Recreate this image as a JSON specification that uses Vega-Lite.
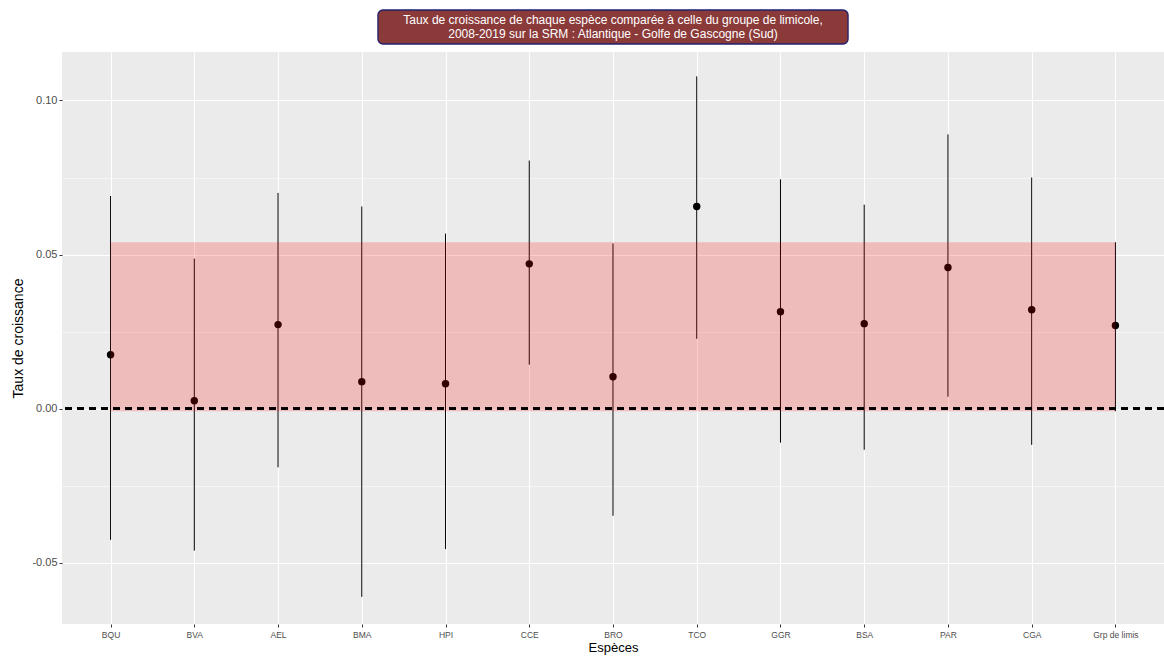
{
  "$schema": "https://vega.github.io/schema/vega-lite/v6.json",
  "background": "white",
  "padding": {"left": 11, "top": 9, "right": 0, "bottom": 0},
  "spacing": 8,
  "bounds": "flush",
  "config": {
    "font": "Liberation Sans",
    "view": {"stroke": null}
  },
  "resolve": {"scale": {"x": "independent", "y": "independent"}},
  "vconcat": [
    {
      "width": 1102,
      "height": 34,
      "data": {"values": [{"t": "Taux de croissance de chaque espèce comparée à celle du groupe de limicole,\n2008-2019 sur la SRM : Atlantique - Golfe de Gascogne (Sud)"}]},
      "layer": [
        {
          "mark": {"type": "rect", "fill": "#8B3A3A", "stroke": "#20206E", "strokeWidth": 1.3, "cornerRadius": 5},
          "encoding": {
            "x": {"field": "t", "type": "nominal", "axis": null, "scale": {"type": "band", "paddingInner": 0, "paddingOuter": 0.672}}
          }
        },
        {
          "mark": {"type": "text", "color": "white", "fontSize": 12, "lineBreak": "\n", "lineHeight": 14, "align": "center", "baseline": "middle", "dy": -7},
          "encoding": {
            "x": {"field": "t", "type": "nominal", "axis": null},
            "text": {"field": "t"}
          }
        }
      ]
    },
    {
      "width": 1102,
      "height": 572,
      "view": {"fill": "#EBEBEB", "stroke": null},
      "data": {"values": [
        {"sp": "BQU", "mid": 0.0175, "lo": -0.0425, "hi": 0.069},
        {"sp": "BVA", "mid": 0.0026, "lo": -0.046, "hi": 0.0487},
        {"sp": "AEL", "mid": 0.0273, "lo": -0.019, "hi": 0.070},
        {"sp": "BMA", "mid": 0.0088, "lo": -0.061, "hi": 0.0656},
        {"sp": "HPI", "mid": 0.0081, "lo": -0.0455, "hi": 0.0568},
        {"sp": "CCE", "mid": 0.047, "lo": 0.0143, "hi": 0.0805},
        {"sp": "BRO", "mid": 0.0104, "lo": -0.0347, "hi": 0.0536},
        {"sp": "TCO", "mid": 0.0656, "lo": 0.0227, "hi": 0.1078},
        {"sp": "GGR", "mid": 0.0315, "lo": -0.011, "hi": 0.0744},
        {"sp": "BSA", "mid": 0.0276, "lo": -0.0133, "hi": 0.0662},
        {"sp": "PAR", "mid": 0.0458, "lo": 0.0039, "hi": 0.089},
        {"sp": "CGA", "mid": 0.0321, "lo": -0.0117, "hi": 0.075},
        {"sp": "Grp de limis", "mid": 0.027, "lo": -0.0008, "hi": 0.054}
      ]},
      "encoding": {
        "x": {
          "field": "sp", "type": "nominal", "sort": null,
          "scale": {"type": "point", "padding": 0.58, "domain": ["BQU", "BVA", "AEL", "BMA", "HPI", "CCE", "BRO", "TCO", "GGR", "BSA", "PAR", "CGA", "Grp de limis"]},
          "axis": {
            "title": "Espèces", "titleFontSize": 13, "titleFontWeight": "normal", "titleColor": "black", "titlePadding": 3,
            "labelAngle": 0, "labelFontSize": 8.5, "labelColor": "#4D4D4D", "labelPadding": 3,
            "tickColor": "#333333", "tickSize": 3, "domain": false,
            "grid": true, "gridColor": "white", "gridWidth": 1.1
          }
        },
        "y": {
          "field": "lo", "type": "quantitative",
          "scale": {"domain": [-0.0698, 0.1157], "nice": false, "zero": false},
          "axis": {
            "title": "Taux de croissance", "titleFontSize": 14, "titleFontWeight": "normal", "titleColor": "black", "titlePadding": 6,
            "values": [-0.05, -0.025, 0, 0.025, 0.05, 0.075, 0.1],
            "labelExpr": "round(datum.value*1000)%50===0 ? replace(format(datum.value,'.2f'),'\u2212','-') : ''",
            "labelFontSize": 11, "labelColor": "#4D4D4D", "labelPadding": 2,
            "tickColor": "#333333", "tickSize": 3, "domain": false,
            "tickOpacity": {"condition": {"test": "round(datum.value*1000)%50!==0", "value": 0}, "value": 1},
            "grid": true, "gridColor": "white",
            "gridWidth": {"condition": {"test": "round(datum.value*1000)%50!==0", "value": 0.55}, "value": 1.1}
          }
        }
      },
      "layer": [
        {
          "mark": {"type": "rule", "color": "black", "strokeWidth": 1},
          "encoding": {"y2": {"field": "hi"}}
        },
        {
          "mark": {"type": "point", "filled": true, "color": "black", "opacity": 1, "size": 55},
          "encoding": {"y": {"field": "mid", "type": "quantitative"}}
        },
        {
          "data": {"values": [{"x1": "BQU", "x2": "Grp de limis", "lo": -0.0008, "hi": 0.054}]},
          "mark": {"type": "rect", "color": "red", "opacity": 0.2},
          "encoding": {
            "x": {"field": "x1", "type": "nominal"},
            "x2": {"field": "x2"},
            "y": {"field": "lo", "type": "quantitative"},
            "y2": {"field": "hi"}
          }
        },
        {
          "mark": {"type": "rule", "color": "black", "strokeWidth": 2, "strokeDash": [7, 5]},
          "encoding": {"y": {"datum": 0}, "x": null}
        }
      ]
    }
  ]
}
